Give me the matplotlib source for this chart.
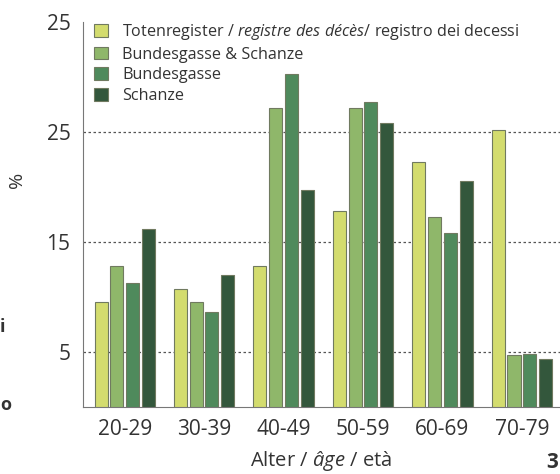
import numpy as np
import matplotlib.pyplot as plt

plt.rcParams['font.family'] = ['Open Sans', 'DejaVu Sans']
plt.rcParams['mathtext.fontset'] = 'custom'
plt.rcParams['mathtext.rm'] = 'Open Sans'
plt.rcParams['mathtext.it'] = 'Open Sans:italic'

groups = ["20-29", "30-39", "40-49", "50-59", "60-69", "70-79"]
series = [
    r"Totenregister / $\mathit{registre\ des\ décès}$/ registro dei decessi",
    "Bundesgasse & Schanze",
    "Bundesgasse",
    "Schanze",
]
totenregister = [9.5, 10.7, 12.8, 17.8, 22.3, 25.2]
bund_schanze = [12.8, 9.5, 27.2, 27.2, 17.3, 4.7]
bundesgasse = [11.3, 8.6, 30.3, 27.7, 15.8, 4.8]
schanze = [16.2, 12.0, 19.7, 25.8, 20.5, 4.4]
yticks = [5, 15, 25, 35]
ytick_labels = ["5", "15", "25", "25"]

colors = ["#d3dc6e", "#8fb76a", "#4f8a5c", "#33573c"]
values = [totenregister, bund_schanze, bundesgasse, schanze]

fig = plt.figure(figsize=(5.6, 4.74), dpi=100)
ax = fig.add_axes([0.148, 0.1414, 0.852, 0.8122])

x = np.arange(len(groups))
step = 0.198
w = 0.164
for i, (vals, c, lab) in enumerate(zip(values, colors, series)):
    ax.bar(x + (i - 1.5) * step, vals, w, color=c, edgecolor="#707a60",
           linewidth=0.8, label=lab, zorder=3)

ax.set_xlim(-0.526, 5.48)
ax.set_ylim(0, 35)
ax.set_yticks(yticks)
ax.set_yticklabels(ytick_labels)
ax.set_xticks(x)
ax.set_xticklabels(groups)
for t in yticks[:-1]:
    ax.axhline(t, color="#555555", linestyle=(0, (2, 2)), linewidth=0.9, zorder=1)

for s in ["top", "right"]:
    ax.spines[s].set_visible(False)
ax.spines["left"].set_color("#777777")
ax.spines["bottom"].set_color("#777777")
ax.tick_params(axis="both", length=0, labelsize=15, colors="#333333")
ax.tick_params(axis="y", pad=9)
ax.tick_params(axis="x", pad=9)

ax.set_ylabel("%", fontsize=14, color="#333333")
ax.yaxis.set_label_coords(-0.12, 0.59)
ax.set_xlabel(r"Alter / $\mathit{âge}$ / età", fontsize=14.5, color="#333333", labelpad=6)

leg = ax.legend(loc="upper left", bbox_to_anchor=(0.0, 1.03), frameon=False,
                fontsize=11.6, handlelength=0.85, handleheight=0.85,
                handletextpad=0.9, labelspacing=0.3, borderaxespad=0.3)
for txt in leg.get_texts():
    txt.set_color("#333333")

fig.text(0.0, 0.30, "i", fontsize=13, fontweight="bold", color="#333333")
fig.text(0.0, 0.135, "o", fontsize=13, fontweight="bold", color="#333333")
fig.text(0.975, 0.012, "3", fontsize=15, fontweight="bold", color="#333333")

fig.savefig("out.png", dpi=100)
